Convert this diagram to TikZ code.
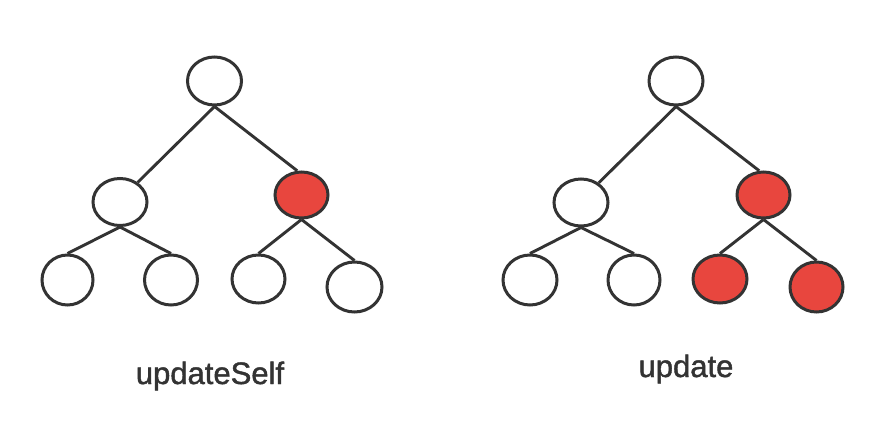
\documentclass[tikz,border=0pt]{standalone}
\usepackage{fontspec}
\setmainfont{Liberation Sans}
\newfontfamily\lblfont[FakeBold=1.4]{Liberation Sans}
\usetikzlibrary{shapes.geometric}
\definecolor{nodered}{HTML}{E8463E}
\definecolor{linegray}{HTML}{333333}
\begin{document}
\begin{tikzpicture}[x=1pt,y=-1pt,
  tn/.style={ellipse,draw=linegray,line width=3pt,fill=white,minimum width=#1,inner sep=0pt},
  tn/.default=54pt,
  hot/.style={fill=nodered},
  edge/.style={draw=linegray,line width=2.9pt},
  lbl/.style={font=\lblfont\fontsize{31}{36}\selectfont,text=linegray,anchor=base,inner sep=0pt}]
\useasboundingbox[fill=white] (0,0) rectangle (896,430);
% left tree
\node[tn,minimum height=48pt] (ar) at (214.5,81) {};
\node[tn,minimum height=47pt] (al) at (120,202) {};
\node[tn,hot,minimum width=53pt,minimum height=46pt] (am) at (301.5,195) {};
\node[tn,minimum width=51pt,minimum height=50pt] (a1) at (67.5,280) {};
\node[tn,minimum width=53pt,minimum height=50pt] (a2) at (171,280) {};
\node[tn,minimum width=53pt,minimum height=48pt] (a3) at (258.5,279) {};
\node[tn,minimum width=55pt,minimum height=50pt] (a4) at (354.5,287) {};
\draw[edge] (ar.south) -- (al.48);
\draw[edge] (ar.south) -- (am.100);
\draw[edge] (al.south) -- (a1.north);
\draw[edge] (al.south) -- (a2.north);
\draw[edge] (am.south) -- (a3.north);
\draw[edge] (am.south) -- (a4.north);
% right tree
\node[tn,minimum height=48pt] (br) at (676,81) {};
\node[tn,minimum height=47pt] (bl) at (581,202.5) {};
\node[tn,hot,minimum width=53pt,minimum height=46pt] (bm) at (763.5,195) {};
\node[tn,minimum width=54pt,minimum height=50pt] (b1) at (530,280) {};
\node[tn,minimum width=52pt,minimum height=50pt] (b2) at (634,280) {};
\node[tn,hot,minimum width=54pt,minimum height=48pt] (b3) at (720,279) {};
\node[tn,hot,minimum width=53pt,minimum height=50pt] (b4) at (816.5,287) {};
\draw[edge] (br.south) -- (bl.48);
\draw[edge] (br.south) -- (bm.100);
\draw[edge] (bl.south) -- (b1.north);
\draw[edge] (bl.south) -- (b2.north);
\draw[edge] (bm.south) -- (b3.north);
\draw[edge] (bm.south) -- (b4.north);
% labels
\node[lbl] (la) at (210,384) {updateSelf};
\node[lbl] (lb) at (686,377) {update};
\end{tikzpicture}
\end{document}
